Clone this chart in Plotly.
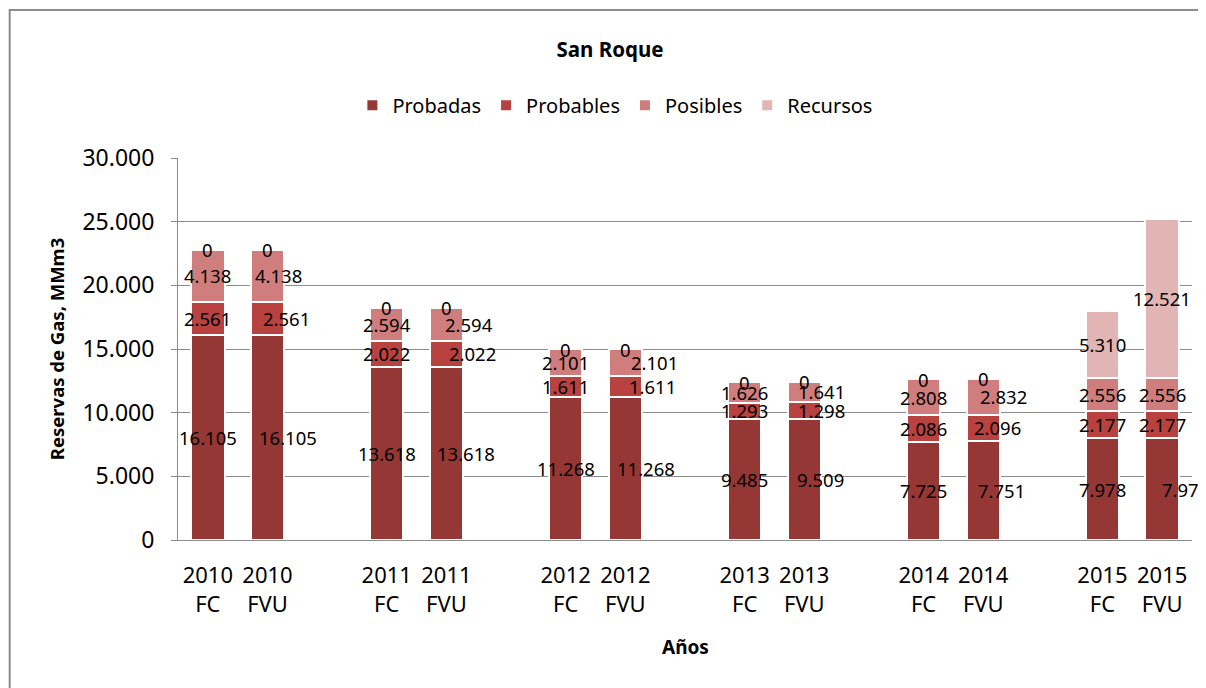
import plotly.graph_objects as go

# Datos (MMm3)
anios = ['2010', '2011', '2012', '2013', '2014', '2015']
fuentes = ['FC', 'FVU']
probadas = [16105, 16105, 13618, 13618, 11268, 11268, 9485, 9509, 7725, 7751, 7978, 7978]
probables = [2561, 2561, 2022, 2022, 1611, 1611, 1293, 1298, 2086, 2096, 2177, 2177]
posibles = [4138, 4138, 2594, 2594, 2101, 2101, 1626, 1641, 2808, 2832, 2556, 2556]
recursos = [0, 0, 0, 0, 0, 0, 0, 0, 0, 0, 5310, 12521]

series = [
    ('Probadas', probadas, '#953735'),
    ('Probables', probables, '#B8423F'),
    ('Posibles', posibles, '#D07E7D'),
    ('Recursos', recursos, '#E2B5B5'),
]

# desplazamiento horizontal (px) de las etiquetas FVU, como en el original
fvu_shift = {
    'Probadas': [21, 20, 21, 16, 18, 23],
    'Probables': [19, 26, 27, 17, 14, 0],
    'Posibles': [11, 23, 29, 17, 20, 0],
    'Recursos': [0, 0, 0, 0, 0, 0],
}

# posiciones: pares de barras con un hueco entre años
posiciones = [3 * (i // 2) + i % 2 for i in range(len(probadas))]
etiquetas = [f'{anios[i // 2]}<br>{fuentes[i % 2]}' for i in range(len(probadas))]

FONT = 'Noto Sans'


def fmt(v):
    return f'{v:,}'.replace(',', '.')


fig = go.Figure()
base = [0] * len(probadas)
annotations = []
for nombre, valores, color in series:
    fig.add_trace(go.Bar(
        x=posiciones, y=valores, name=nombre,
        marker=dict(color=color, line=dict(color='white', width=2)),
        width=0.56,
    ))
    for i, v in enumerate(valores):
        shift = fvu_shift[nombre][i // 2] if i % 2 == 1 else 0
        annotations.append(dict(
            x=posiciones[i], y=base[i] + v / 2, text=fmt(v),
            showarrow=False, xshift=shift,
            font=dict(family=FONT, size=18.5, color='black'),
        ))
    base = [b + v for b, v in zip(base, valores)]

annotations.append(dict(
    text='<b>Años</b>', xref='paper', yref='paper', x=0.5, y=-0.28,
    xanchor='center', yanchor='middle',
    showarrow=False, font=dict(family=FONT, size=19, color='black'),
))

# la página añade 8 px de margen al cuerpo: la figura se reduce para caber
fig.update_layout(
    barmode='stack',
    width=1198, height=680,
    margin=dict(l=170, r=14, t=150, b=148, autoexpand=False),
    paper_bgcolor='white', plot_bgcolor='white',
    separators=',.',
    font=dict(family=FONT, color='black'),
    title=dict(text='<b>San Roque</b>', x=0.5025, y=0.938, xanchor='center', yanchor='middle',
               font=dict(family=FONT, size=20.5, color='black')),
    legend=dict(orientation='h', xref='container', yref='container',
                x=0.507, xanchor='center', y=0.857, yanchor='middle',
                bgcolor='rgba(0,0,0,0)',
                font=dict(family=FONT, size=20), traceorder='normal', itemclick=False),
    annotations=annotations,
    shapes=[dict(type='rect', xref='paper', yref='paper', x0=-0.166, x1=1.2, y0=-1, y1=1.3874,
                 line=dict(color='#8c8c8c', width=2), fillcolor='rgba(0,0,0,0)', layer='below')],
    showlegend=True,
)

fig.update_xaxes(
    tickmode='array', tickvals=posiciones, ticktext=etiquetas,
    range=[-0.5, 16.5], showgrid=False, zeroline=False, automargin=False,
    showline=True, linecolor='#8c8c8c', linewidth=1,
    ticks='', ticklabelstandoff=16,
    tickfont=dict(family=FONT, size=22, color='black'),
)
fig.update_yaxes(
    range=[0, 30000], dtick=5000, tickformat=',d', automargin=False,
    showgrid=True, gridcolor='#8c8c8c', gridwidth=1, zeroline=False,
    showline=True, linecolor='#8c8c8c', linewidth=1,
    ticks='outside', ticklen=6, tickcolor='#8c8c8c', ticklabelstandoff=12,
    tickfont=dict(family=FONT, size=23, color='black'),
    title=dict(text='<b>Reservas de Gas, MMm3</b>', standoff=12,
               font=dict(family=FONT, size=18.5, color='black')),
)

fig.write_html('out.html')
